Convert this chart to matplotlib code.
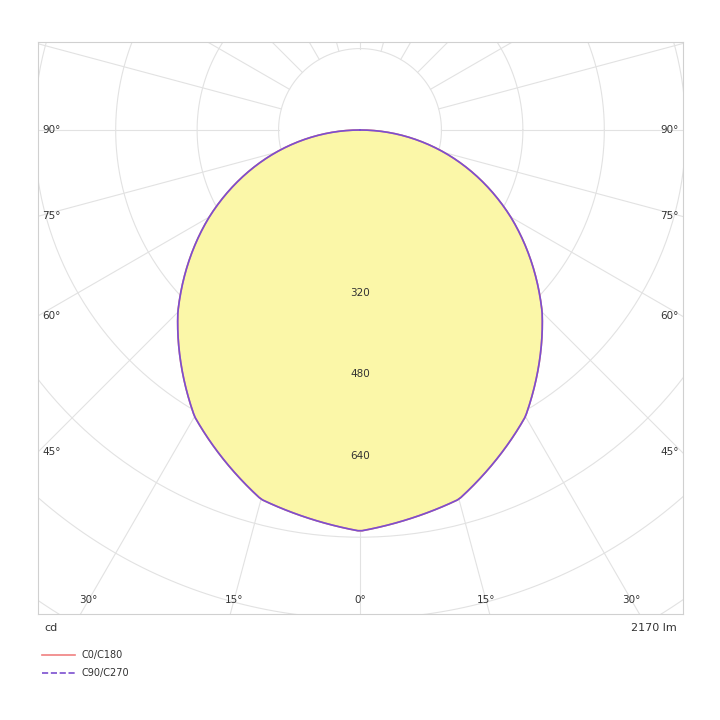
import numpy as np
import matplotlib.pyplot as plt
from matplotlib.lines import Line2D

# intensity (cd) vs. angle from nadir
angles = [0, 15, 30, 45, 60, 75, 90]
c0_c180 = [788, 751, 650, 506, 342, 172, 0]
c90_c270 = [788, 751, 650, 506, 342, 172, 0]
ring_labels = [320, 480, 640]
flux_label = "2170 lm"

fig = plt.figure(figsize=(7.2, 7.2), dpi=100)
# box in pixels: x 38..683, y 42..614 ; origin at (360,130) ; 0.509 px per cd
s = 0.509
ax = fig.add_axes([38 / 720, 106 / 720, 645 / 720, 572 / 720])
x0, x1 = (38 - 360) / s, (683 - 360) / s
y0, y1 = -(614 - 130) / s, (130 - 42) / s
ax.set_xlim(x0, x1)
ax.set_ylim(y0, y1)
ax.set_aspect('auto')
ax.set_xticks([])
ax.set_yticks([])
for sp in ax.spines.values():
    sp.set_color('#d0d0d0')

grid = '#e2e2e2'
t = np.linspace(0, 2 * np.pi, 400)
for r in range(160, 1300, 160):
    ax.plot(r * np.cos(t), r * np.sin(t), color=grid, lw=0.8, zorder=1)
for a in range(0, 360, 15):
    ar = np.radians(a)
    ax.plot([160 * np.sin(ar), 1400 * np.sin(ar)], [-160 * np.cos(ar), -1400 * np.cos(ar)],
            color=grid, lw=0.8, zorder=1)


def curve(vals):
    th = np.radians(np.array(angles, dtype=float))
    v = np.array(vals, dtype=float)
    th = np.concatenate([-th[::-1], th[1:]])
    v = np.concatenate([v[::-1], v[1:]])
    # smooth with a fine interpolation
    tf = np.linspace(th.min(), th.max(), 300)
    vf = np.interp(tf, th, v)
    return vf * np.sin(tf), -vf * np.cos(tf)


cx, cy = curve(c0_c180)
ax.fill(cx, cy, color='#fbf7a8', zorder=2)
ax.plot(cx, cy, color='#f08080', lw=1.2, zorder=3)
px, py = curve(c90_c270)
ax.plot(px, py, color='#7b4fd0', lw=1.2, zorder=4)

tc = '#333333'
fs = 7.5
for r in ring_labels:
    ax.text(0, -r, str(r), ha='center', va='center', fontsize=fs, color=tc, zorder=5)

ybot = -(600 - 130) / s
for a in [-30, -15, 0, 15, 30]:
    ax.text(-ybot * np.tan(np.radians(a)), ybot, f"{abs(a)}°", ha='center', va='center',
            fontsize=fs, color=tc, zorder=5)
for a in [90, 75, 60, 45]:
    if a == 90:
        yy = 0
    else:
        yy = -abs(x0) / np.tan(np.radians(a))
    ax.text(x0 + 8, yy, f"{a}°", ha='left', va='center', fontsize=fs, color=tc, zorder=5)
    ax.text(x1 - 8, yy, f"{a}°", ha='right', va='center', fontsize=fs, color=tc, zorder=5)

fig.text(44 / 720, 1 - 628 / 720, "cd", ha='left', va='center', fontsize=8, color=tc)
fig.text(677 / 720, 1 - 628 / 720, flux_label, ha='right', va='center', fontsize=8, color=tc)

fig.add_artist(Line2D([42 / 720, 75 / 720], [1 - 655 / 720] * 2, color='#f08080', lw=1.2))
fig.add_artist(Line2D([42 / 720, 75 / 720], [1 - 673 / 720] * 2, color='#7b4fd0', lw=1.2, ls='--'))
fig.text(82 / 720, 1 - 655 / 720, "C0/C180", ha='left', va='center', fontsize=7, color=tc)
fig.text(82 / 720, 1 - 673 / 720, "C90/C270", ha='left', va='center', fontsize=7, color=tc)

fig.savefig("out.png", dpi=100, facecolor='white')
